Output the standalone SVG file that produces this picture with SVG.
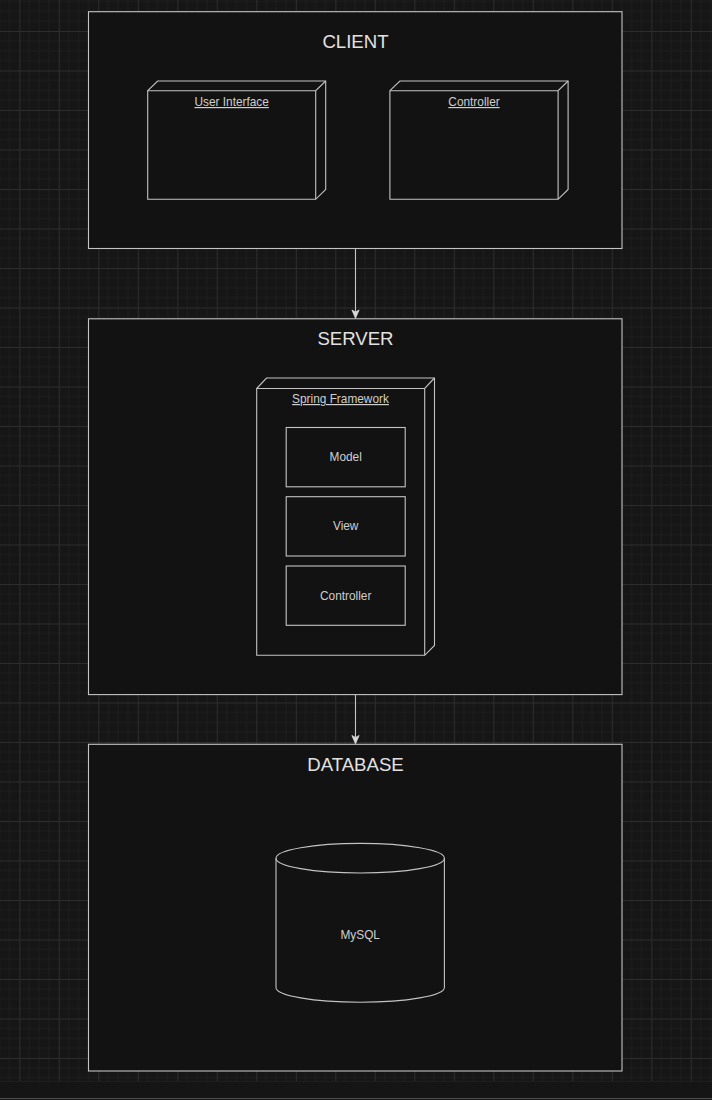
<svg xmlns="http://www.w3.org/2000/svg" width="712" height="1100" viewBox="0 0 712 1100">
  <defs>
    <pattern id="grid" patternUnits="userSpaceOnUse" x="19.3" y="31" width="39.5" height="39.5">
      <rect width="39.5" height="39.5" fill="#161616"/>
      <path d="M9.875,0 V39.5 M19.75,0 V39.5 M29.625,0 V39.5 M0,9.875 H39.5 M0,19.75 H39.5 M0,29.625 H39.5" stroke="#1e1e1e" stroke-width="1" fill="none"/>
      <path d="M0.5,0 V39.5 M0,0.5 H39.5" stroke="#2d2d2d" stroke-width="1" fill="none"/>
    </pattern>
  </defs>
  <style>
    .frame { fill: #121212; stroke: #c4c4c4; stroke-width: 1.1; }
    .node { fill: #121212; stroke: #c4c4c4; stroke-width: 1.1; stroke-linejoin: miter; }
    .edge { fill: none; stroke: #c4c4c4; stroke-width: 1.1; }
    .ln { fill: none; stroke: #c4c4c4; stroke-width: 1.1; }
    .head { fill: #d8d8d8; stroke: #d8d8d8; stroke-width: 0.8; stroke-linejoin: miter; }
    .title { font-family: "Liberation Sans", Arial, Helvetica, sans-serif; font-size: 18.6px; fill: #e2e2e2; text-anchor: middle; }
    .lbl { font-family: "Liberation Sans", Arial, Helvetica, sans-serif; font-size: 11.85px; fill: #cfcfcf; text-anchor: middle; }
    .u { text-decoration: underline; }
  </style>

  <rect x="0" y="0" width="712" height="1100" fill="url(#grid)"/>
  <rect x="0" y="1081" width="712" height="19" fill="#151515"/>
  <line x1="0" y1="1081.5" x2="712" y2="1081.5" stroke="#1f1f1f" stroke-width="1"/>
  <line x1="0" y1="1098.5" x2="712" y2="1098.5" stroke="#4e4e4e" stroke-width="1"/>

  <g id="client">
    <rect class="frame" x="88.5" y="11.7" width="533.5" height="236.8"/>
    <text class="title" x="355.5" y="48.3">CLIENT</text>
  </g>

  <g id="user-interface">
    <path class="node" d="M147.7,90.7 L157.7,81 L325.7,81 L325.7,189.5 L315.7,199.3 L147.7,199.3 Z"/>
    <path class="ln" d="M147.7,90.7 L315.7,90.7 L325.7,81 M315.7,90.7 L315.7,199.3"/>
    <text class="lbl u" x="231.7" y="106">User Interface</text>
  </g>

  <g id="client-controller">
    <path class="node" d="M389.9,90.7 L399.9,81 L568.1,81 L568.1,189.5 L558.1,199.3 L389.9,199.3 Z"/>
    <path class="ln" d="M389.9,90.7 L558.1,90.7 L568.1,81 M558.1,90.7 L558.1,199.3"/>
    <text class="lbl u" x="474" y="106">Controller</text>
  </g>

  <g id="server">
    <rect class="frame" x="88.5" y="318.8" width="533.5" height="375.8"/>
    <text class="title" x="355.5" y="345">SERVER</text>
  </g>

  <g id="spring-framework">
    <path class="node" d="M256.7,388.5 L266.5,378 L434.5,378 L434.5,645.5 L424.7,655.3 L256.7,655.3 Z"/>
    <path class="ln" d="M256.7,388.5 L424.7,388.5 L434.5,378 M424.7,388.5 L424.7,655.3"/>
    <text class="lbl u" x="340.5" y="403">Spring Framework</text>
  </g>

  <g id="model">
    <rect class="node" x="286.2" y="427.5" width="119" height="59.3"/>
    <text class="lbl" x="345.7" y="461">Model</text>
  </g>

  <g id="view">
    <rect class="node" x="286.2" y="496.7" width="119" height="59.3"/>
    <text class="lbl" x="345.7" y="530.3">View</text>
  </g>

  <g id="server-controller">
    <rect class="node" x="286.2" y="566" width="119" height="59.3"/>
    <text class="lbl" x="345.7" y="599.7">Controller</text>
  </g>

  <g id="database">
    <rect class="frame" x="88.5" y="744.3" width="533.5" height="326.7"/>
    <text class="title" x="355.5" y="770.8">DATABASE</text>
  </g>

  <g id="mysql">
    <path class="node" d="M276,858.2 A84.2,14.8 0 0 1 444.4,858.2 L444.4,987.4 A84.2,14.8 0 0 1 276,987.4 Z"/>
    <path class="ln" d="M276,858.2 A84.2,14.8 0 0 0 444.4,858.2"/>
    <text class="lbl" x="360.2" y="939.3">MySQL</text>
  </g>

  <g id="connectors">
    <line class="edge" x1="355.5" y1="248.5" x2="355.5" y2="312"/>
    <polygon class="head" points="355.5,318.3 351.9,310 355.5,312 359.1,310"/>
    <line class="edge" x1="355.5" y1="694.6" x2="355.5" y2="737.5"/>
    <polygon class="head" points="355.5,743.8 351.9,735.5 355.5,737.5 359.1,735.5"/>
  </g>
</svg>
